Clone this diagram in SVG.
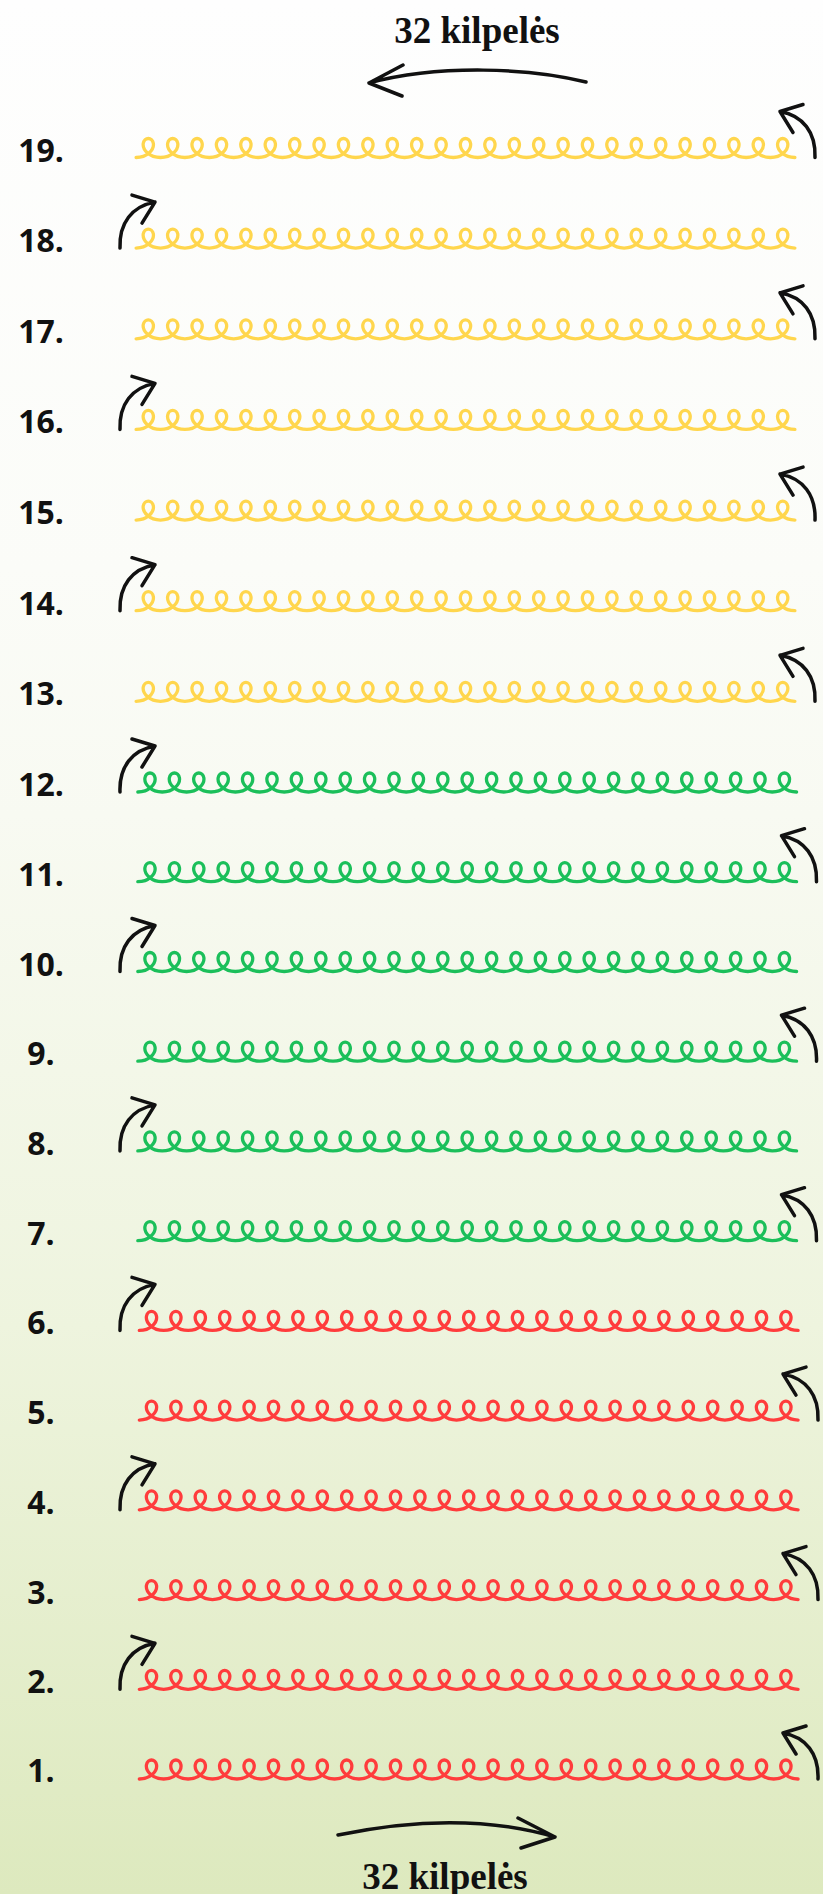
<svg xmlns="http://www.w3.org/2000/svg" xmlns:xlink="http://www.w3.org/1999/xlink" width="823" height="1894" viewBox="0 0 823 1894">
<defs>
<linearGradient id="bg" x1="0" y1="0" x2="0" y2="1">
<stop offset="0" stop-color="#fefefe"/>
<stop offset="0.3" stop-color="#fbfcf8"/>
<stop offset="0.43" stop-color="#f8faf2"/>
<stop offset="0.7" stop-color="#eef4de"/>
<stop offset="1" stop-color="#dde9be"/>
</linearGradient>
<path id="loops" d="M0,0
c5.02,0 9.97,-1.88 13.16,-4.75 c3.19,-2.87 4.54,-6.63 4.07,-9.5 c-.48,-2.87 -2.72,-4.75 -5.03,-4.75 c-2.31,0 -4.55,1.88 -5.03,4.75 c-.48,2.87 .88,6.63 4.07,9.5 c3.19,2.87 8.14,4.75 13.16,4.75
c5.02,0 9.97,-1.88 13.16,-4.75 c3.19,-2.87 4.54,-6.63 4.07,-9.5 c-.48,-2.87 -2.72,-4.75 -5.03,-4.75 c-2.31,0 -4.55,1.88 -5.03,4.75 c-.48,2.87 .88,6.63 4.07,9.5 c3.19,2.87 8.14,4.75 13.16,4.75
c5.02,0 9.97,-1.88 13.16,-4.75 c3.19,-2.87 4.54,-6.63 4.07,-9.5 c-.48,-2.87 -2.72,-4.75 -5.03,-4.75 c-2.31,0 -4.55,1.88 -5.03,4.75 c-.48,2.87 .88,6.63 4.07,9.5 c3.19,2.87 8.14,4.75 13.16,4.75
c5.02,0 9.97,-1.88 13.16,-4.75 c3.19,-2.87 4.54,-6.63 4.07,-9.5 c-.48,-2.87 -2.72,-4.75 -5.03,-4.75 c-2.31,0 -4.55,1.88 -5.03,4.75 c-.48,2.87 .88,6.63 4.07,9.5 c3.19,2.87 8.14,4.75 13.16,4.75
c5.02,0 9.97,-1.88 13.16,-4.75 c3.19,-2.87 4.54,-6.63 4.07,-9.5 c-.48,-2.87 -2.72,-4.75 -5.03,-4.75 c-2.31,0 -4.55,1.88 -5.03,4.75 c-.48,2.87 .88,6.63 4.07,9.5 c3.19,2.87 8.14,4.75 13.16,4.75
c5.02,0 9.97,-1.88 13.16,-4.75 c3.19,-2.87 4.54,-6.63 4.07,-9.5 c-.48,-2.87 -2.72,-4.75 -5.03,-4.75 c-2.31,0 -4.55,1.88 -5.03,4.75 c-.48,2.87 .88,6.63 4.07,9.5 c3.19,2.87 8.14,4.75 13.16,4.75
c5.02,0 9.97,-1.88 13.16,-4.75 c3.19,-2.87 4.54,-6.63 4.07,-9.5 c-.48,-2.87 -2.72,-4.75 -5.03,-4.75 c-2.31,0 -4.55,1.88 -5.03,4.75 c-.48,2.87 .88,6.63 4.07,9.5 c3.19,2.87 8.14,4.75 13.16,4.75
c5.02,0 9.97,-1.88 13.16,-4.75 c3.19,-2.87 4.54,-6.63 4.07,-9.5 c-.48,-2.87 -2.72,-4.75 -5.03,-4.75 c-2.31,0 -4.55,1.88 -5.03,4.75 c-.48,2.87 .88,6.63 4.07,9.5 c3.19,2.87 8.14,4.75 13.16,4.75
c5.02,0 9.97,-1.88 13.16,-4.75 c3.19,-2.87 4.54,-6.63 4.07,-9.5 c-.48,-2.87 -2.72,-4.75 -5.03,-4.75 c-2.31,0 -4.55,1.88 -5.03,4.75 c-.48,2.87 .88,6.63 4.07,9.5 c3.19,2.87 8.14,4.75 13.16,4.75
c5.02,0 9.97,-1.88 13.16,-4.75 c3.19,-2.87 4.54,-6.63 4.07,-9.5 c-.48,-2.87 -2.72,-4.75 -5.03,-4.75 c-2.31,0 -4.55,1.88 -5.03,4.75 c-.48,2.87 .88,6.63 4.07,9.5 c3.19,2.87 8.14,4.75 13.16,4.75
c5.02,0 9.97,-1.88 13.16,-4.75 c3.19,-2.87 4.54,-6.63 4.07,-9.5 c-.48,-2.87 -2.72,-4.75 -5.03,-4.75 c-2.31,0 -4.55,1.88 -5.03,4.75 c-.48,2.87 .88,6.63 4.07,9.5 c3.19,2.87 8.14,4.75 13.16,4.75
c5.02,0 9.97,-1.88 13.16,-4.75 c3.19,-2.87 4.54,-6.63 4.07,-9.5 c-.48,-2.87 -2.72,-4.75 -5.03,-4.75 c-2.31,0 -4.55,1.88 -5.03,4.75 c-.48,2.87 .88,6.63 4.07,9.5 c3.19,2.87 8.14,4.75 13.16,4.75
c5.02,0 9.97,-1.88 13.16,-4.75 c3.19,-2.87 4.54,-6.63 4.07,-9.5 c-.48,-2.87 -2.72,-4.75 -5.03,-4.75 c-2.31,0 -4.55,1.88 -5.03,4.75 c-.48,2.87 .88,6.63 4.07,9.5 c3.19,2.87 8.14,4.75 13.16,4.75
c5.02,0 9.97,-1.88 13.16,-4.75 c3.19,-2.87 4.54,-6.63 4.07,-9.5 c-.48,-2.87 -2.72,-4.75 -5.03,-4.75 c-2.31,0 -4.55,1.88 -5.03,4.75 c-.48,2.87 .88,6.63 4.07,9.5 c3.19,2.87 8.14,4.75 13.16,4.75
c5.02,0 9.97,-1.88 13.16,-4.75 c3.19,-2.87 4.54,-6.63 4.07,-9.5 c-.48,-2.87 -2.72,-4.75 -5.03,-4.75 c-2.31,0 -4.55,1.88 -5.03,4.75 c-.48,2.87 .88,6.63 4.07,9.5 c3.19,2.87 8.14,4.75 13.16,4.75
c5.02,0 9.97,-1.88 13.16,-4.75 c3.19,-2.87 4.54,-6.63 4.07,-9.5 c-.48,-2.87 -2.72,-4.75 -5.03,-4.75 c-2.31,0 -4.55,1.88 -5.03,4.75 c-.48,2.87 .88,6.63 4.07,9.5 c3.19,2.87 8.14,4.75 13.16,4.75
c5.02,0 9.97,-1.88 13.16,-4.75 c3.19,-2.87 4.54,-6.63 4.07,-9.5 c-.48,-2.87 -2.72,-4.75 -5.03,-4.75 c-2.31,0 -4.55,1.88 -5.03,4.75 c-.48,2.87 .88,6.63 4.07,9.5 c3.19,2.87 8.14,4.75 13.16,4.75
c5.02,0 9.97,-1.88 13.16,-4.75 c3.19,-2.87 4.54,-6.63 4.07,-9.5 c-.48,-2.87 -2.72,-4.75 -5.03,-4.75 c-2.31,0 -4.55,1.88 -5.03,4.75 c-.48,2.87 .88,6.63 4.07,9.5 c3.19,2.87 8.14,4.75 13.16,4.75
c5.02,0 9.97,-1.88 13.16,-4.75 c3.19,-2.87 4.54,-6.63 4.07,-9.5 c-.48,-2.87 -2.72,-4.75 -5.03,-4.75 c-2.31,0 -4.55,1.88 -5.03,4.75 c-.48,2.87 .88,6.63 4.07,9.5 c3.19,2.87 8.14,4.75 13.16,4.75
c5.02,0 9.97,-1.88 13.16,-4.75 c3.19,-2.87 4.54,-6.63 4.07,-9.5 c-.48,-2.87 -2.72,-4.75 -5.03,-4.75 c-2.31,0 -4.55,1.88 -5.03,4.75 c-.48,2.87 .88,6.63 4.07,9.5 c3.19,2.87 8.14,4.75 13.16,4.75
c5.02,0 9.97,-1.88 13.16,-4.75 c3.19,-2.87 4.54,-6.63 4.07,-9.5 c-.48,-2.87 -2.72,-4.75 -5.03,-4.75 c-2.31,0 -4.55,1.88 -5.03,4.75 c-.48,2.87 .88,6.63 4.07,9.5 c3.19,2.87 8.14,4.75 13.16,4.75
c5.02,0 9.97,-1.88 13.16,-4.75 c3.19,-2.87 4.54,-6.63 4.07,-9.5 c-.48,-2.87 -2.72,-4.75 -5.03,-4.75 c-2.31,0 -4.55,1.88 -5.03,4.75 c-.48,2.87 .88,6.63 4.07,9.5 c3.19,2.87 8.14,4.75 13.16,4.75
c5.02,0 9.97,-1.88 13.16,-4.75 c3.19,-2.87 4.54,-6.63 4.07,-9.5 c-.48,-2.87 -2.72,-4.75 -5.03,-4.75 c-2.31,0 -4.55,1.88 -5.03,4.75 c-.48,2.87 .88,6.63 4.07,9.5 c3.19,2.87 8.14,4.75 13.16,4.75
c5.02,0 9.97,-1.88 13.16,-4.75 c3.19,-2.87 4.54,-6.63 4.07,-9.5 c-.48,-2.87 -2.72,-4.75 -5.03,-4.75 c-2.31,0 -4.55,1.88 -5.03,4.75 c-.48,2.87 .88,6.63 4.07,9.5 c3.19,2.87 8.14,4.75 13.16,4.75
c5.02,0 9.97,-1.88 13.16,-4.75 c3.19,-2.87 4.54,-6.63 4.07,-9.5 c-.48,-2.87 -2.72,-4.75 -5.03,-4.75 c-2.31,0 -4.55,1.88 -5.03,4.75 c-.48,2.87 .88,6.63 4.07,9.5 c3.19,2.87 8.14,4.75 13.16,4.75
c5.02,0 9.97,-1.88 13.16,-4.75 c3.19,-2.87 4.54,-6.63 4.07,-9.5 c-.48,-2.87 -2.72,-4.75 -5.03,-4.75 c-2.31,0 -4.55,1.88 -5.03,4.75 c-.48,2.87 .88,6.63 4.07,9.5 c3.19,2.87 8.14,4.75 13.16,4.75
c5.02,0 9.97,-1.88 13.16,-4.75 c3.19,-2.87 4.54,-6.63 4.07,-9.5 c-.48,-2.87 -2.72,-4.75 -5.03,-4.75 c-2.31,0 -4.55,1.88 -5.03,4.75 c-.48,2.87 .88,6.63 4.07,9.5 c3.19,2.87 8.14,4.75 13.16,4.75"/>
<path id="arrR" d="M0,0 C1,-25 -12,-42 -35,-46 M-12,-53 L-35,-46 L-22,-25"/>
</defs>
<style>
.loop{fill:none;stroke-width:3.3;stroke-linecap:round;stroke-linejoin:round}
.y{stroke:#ffd64d}
.g{stroke:#1bbf5a}
.r{stroke:#ff3c3c}
.num{font-family:"Open Sans","Liberation Sans",sans-serif;font-weight:700;font-size:32px;fill:#111;text-anchor:middle}
.cap{font-family:"Liberation Serif","DejaVu Serif",serif;font-weight:700;font-size:37px;fill:#111;text-anchor:middle}
.arr{fill:none;stroke:#111;stroke-width:3.5;stroke-linecap:round;stroke-linejoin:round}
</style>
<rect width="823" height="1894" fill="url(#bg)"/>

<g id="header">
<text class="cap" x="477" y="43">32 kilpelės</text>
</g>
<g id="footer">
<text class="cap" x="445" y="1889">32 kilpelės</text>
</g>

<g id="row19"><text class="num" x="41" y="161.5">19.</text><use href="#loops" class="loop y" transform="translate(136.1,157.5)"/></g>
<g id="row18"><text class="num" x="41" y="252.1">18.</text><use href="#loops" class="loop y" transform="translate(136.1,248.1)"/></g>
<g id="row17"><text class="num" x="41" y="342.8">17.</text><use href="#loops" class="loop y" transform="translate(136.1,338.8)"/></g>
<g id="row16"><text class="num" x="41" y="433.4">16.</text><use href="#loops" class="loop y" transform="translate(136.1,429.4)"/></g>
<g id="row15"><text class="num" x="41" y="524.1">15.</text><use href="#loops" class="loop y" transform="translate(136.1,520.1)"/></g>
<g id="row14"><text class="num" x="41" y="614.7">14.</text><use href="#loops" class="loop y" transform="translate(136.1,610.7)"/></g>
<g id="row13"><text class="num" x="41" y="705.3">13.</text><use href="#loops" class="loop y" transform="translate(136.1,701.3)"/></g>
<g id="row12"><text class="num" x="41" y="796">12.</text><use href="#loops" class="loop g" transform="translate(137.8,792)"/></g>
<g id="row11"><text class="num" x="41" y="885.7">11.</text><use href="#loops" class="loop g" transform="translate(137.8,881.7)"/></g>
<g id="row10"><text class="num" x="41" y="975.5">10.</text><use href="#loops" class="loop g" transform="translate(137.8,971.5)"/></g>
<g id="row9"><text class="num" x="41" y="1065.2">9.</text><use href="#loops" class="loop g" transform="translate(137.8,1061.2)"/></g>
<g id="row8"><text class="num" x="41" y="1154.9">8.</text><use href="#loops" class="loop g" transform="translate(137.8,1150.9)"/></g>
<g id="row7"><text class="num" x="41" y="1244.7">7.</text><use href="#loops" class="loop g" transform="translate(137.8,1240.7)"/></g>
<g id="row6"><text class="num" x="41" y="1334.4">6.</text><use href="#loops" class="loop r" transform="translate(139.3,1330.4)"/></g>
<g id="row5"><text class="num" x="41" y="1424.1">5.</text><use href="#loops" class="loop r" transform="translate(139.3,1420.1)"/></g>
<g id="row4"><text class="num" x="41" y="1513.8">4.</text><use href="#loops" class="loop r" transform="translate(139.3,1509.8)"/></g>
<g id="row3"><text class="num" x="41" y="1603.6">3.</text><use href="#loops" class="loop r" transform="translate(139.3,1599.6)"/></g>
<g id="row2"><text class="num" x="41" y="1693.3">2.</text><use href="#loops" class="loop r" transform="translate(139.3,1689.3)"/></g>
<g id="row1"><text class="num" x="41" y="1782">1.</text><use href="#loops" class="loop r" transform="translate(139.3,1779)"/></g>

<g id="connectors" class="arr">
<path d="M586,82 C530,68 440,64 369,83 M403,65 L369,83 L402,96"/>
<path d="M338,1835 C400,1822 480,1815 555,1837 M518,1818 L555,1837 L521,1848"/>
<use href="#arrR" transform="translate(815,157.5)"/>
<use href="#arrR" transform="translate(120,248.1) scale(-1,1)"/>
<use href="#arrR" transform="translate(815,338.8)"/>
<use href="#arrR" transform="translate(120,429.4) scale(-1,1)"/>
<use href="#arrR" transform="translate(815,520.1)"/>
<use href="#arrR" transform="translate(120,610.7) scale(-1,1)"/>
<use href="#arrR" transform="translate(815,701.3)"/>
<use href="#arrR" transform="translate(120,792) scale(-1,1)"/>
<use href="#arrR" transform="translate(816.5,881.7)"/>
<use href="#arrR" transform="translate(120,971.5) scale(-1,1)"/>
<use href="#arrR" transform="translate(816.5,1061.2)"/>
<use href="#arrR" transform="translate(120,1150.9) scale(-1,1)"/>
<use href="#arrR" transform="translate(816.5,1240.7)"/>
<use href="#arrR" transform="translate(120,1330.4) scale(-1,1)"/>
<use href="#arrR" transform="translate(818,1420.1)"/>
<use href="#arrR" transform="translate(120,1509.8) scale(-1,1)"/>
<use href="#arrR" transform="translate(818,1599.6)"/>
<use href="#arrR" transform="translate(120,1689.3) scale(-1,1)"/>
<use href="#arrR" transform="translate(818,1779)"/>
</g>
</svg>
